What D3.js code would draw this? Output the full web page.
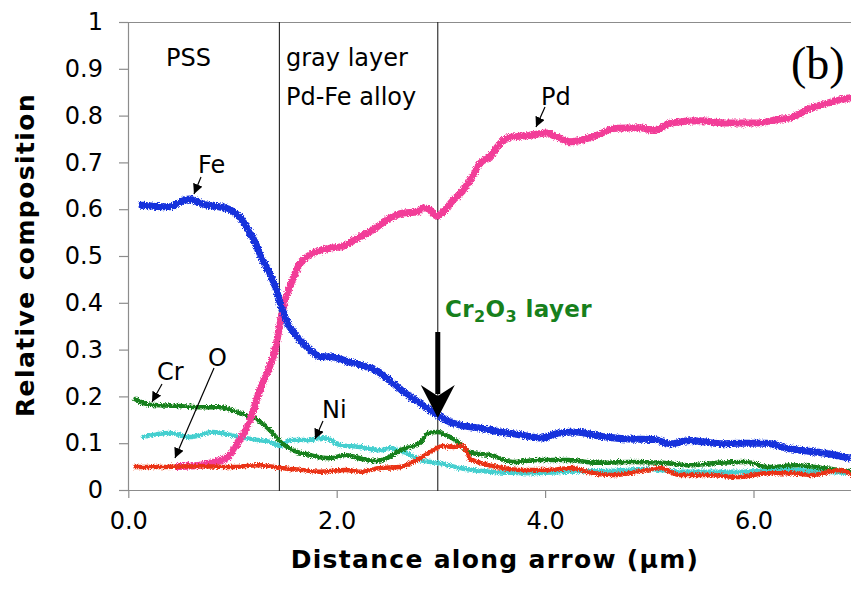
<!DOCTYPE html>
<html>
<head>
<meta charset="utf-8">
<script src="https://cdn.jsdelivr.net/npm/d3@7"></script>
<style>
  html, body { margin: 0; padding: 0; background: #fff; }
  svg { display: block; font-family: "DejaVu Sans", Verdana, sans-serif; }
</style>
</head>
<body>
<svg id="chart" width="851" height="592"></svg>
<script>
// Line-scan composition profiles, [distance (µm), relative composition]
const fe = [[0.10,0.609],[0.40,0.605],[0.48,0.613],[0.58,0.622],[0.69,0.613],[0.79,0.607],[0.88,0.605],[1.00,0.596],[1.07,0.583],[1.15,0.556],[1.22,0.528],[1.28,0.496],[1.34,0.47],[1.41,0.435],[1.47,0.39],[1.55,0.348],[1.65,0.32],[1.74,0.30],[1.84,0.285],[1.96,0.284],[2.10,0.275],[2.22,0.268],[2.39,0.254],[2.54,0.228],[2.67,0.205],[2.80,0.185],[2.97,0.16],[3.09,0.145],[3.18,0.139],[3.38,0.132],[3.57,0.124],[3.76,0.118],[3.95,0.111],[4.14,0.122],[4.29,0.124],[4.53,0.115],[4.81,0.109],[5.05,0.108],[5.20,0.099],[5.39,0.106],[5.68,0.099],[5.87,0.10],[6.13,0.10],[6.30,0.09],[6.45,0.085],[6.67,0.079],[6.93,0.068]];
const pd = [[0.45,0.05],[0.65,0.052],[0.79,0.058],[0.95,0.07],[1.07,0.107],[1.17,0.15],[1.24,0.199],[1.33,0.25],[1.39,0.284],[1.44,0.335],[1.48,0.385],[1.55,0.434],[1.63,0.477],[1.74,0.502],[1.94,0.517],[2.03,0.519],[2.20,0.538],[2.35,0.556],[2.48,0.577],[2.64,0.592],[2.77,0.594],[2.83,0.603],[2.90,0.598],[2.96,0.585],[3.02,0.594],[3.12,0.62],[3.20,0.637],[3.28,0.662],[3.38,0.699],[3.47,0.712],[3.54,0.733],[3.63,0.752],[3.86,0.758],[4.02,0.763],[4.11,0.755],[4.24,0.744],[4.46,0.755],[4.69,0.773],[4.91,0.774],[5.05,0.768],[5.20,0.784],[5.49,0.789],[5.74,0.784],[6.03,0.784],[6.22,0.791],[6.38,0.797],[6.54,0.815],[6.70,0.826],[6.90,0.837],[6.98,0.84]];
const cr = [[0.05,0.196],[0.21,0.182],[0.45,0.18],[0.69,0.177],[0.88,0.177],[1.07,0.164],[1.24,0.15],[1.36,0.128],[1.46,0.103],[1.58,0.085],[1.74,0.075],[1.84,0.07],[1.94,0.068],[2.08,0.075],[2.22,0.068],[2.37,0.062],[2.51,0.071],[2.61,0.085],[2.80,0.10],[2.87,0.121],[2.97,0.124],[3.09,0.113],[3.18,0.10],[3.28,0.079],[3.47,0.075],[3.69,0.06],[3.95,0.064],[4.21,0.064],[4.50,0.058],[4.81,0.06],[5.13,0.058],[5.39,0.053],[5.65,0.058],[5.94,0.06],[6.13,0.049],[6.42,0.053],[6.67,0.047],[6.98,0.039]];
const ni = [[0.13,0.113],[0.40,0.122],[0.59,0.113],[0.81,0.124],[1.07,0.113],[1.24,0.107],[1.36,0.103],[1.46,0.094],[1.55,0.107],[1.74,0.107],[1.84,0.111],[1.94,0.107],[2.03,0.096],[2.22,0.092],[2.42,0.085],[2.51,0.09],[2.67,0.079],[2.80,0.064],[2.97,0.058],[3.18,0.047],[3.47,0.039],[3.86,0.036],[4.21,0.039],[4.65,0.041],[4.98,0.045],[5.29,0.039],[5.87,0.039],[6.35,0.043],[6.67,0.039],[6.98,0.036]];
const ox = [[0.05,0.049],[0.30,0.049],[0.69,0.051],[0.98,0.049],[1.26,0.053],[1.46,0.047],[1.65,0.043],[1.84,0.039],[2.08,0.043],[2.22,0.039],[2.42,0.047],[2.61,0.049],[2.77,0.064],[2.90,0.081],[3.02,0.094],[3.12,0.092],[3.21,0.095],[3.28,0.066],[3.38,0.058],[3.54,0.049],[3.76,0.043],[4.02,0.043],[4.27,0.047],[4.40,0.039],[4.65,0.032],[4.98,0.043],[5.10,0.047],[5.29,0.032],[5.55,0.032],[5.87,0.028],[6.13,0.036],[6.35,0.036],[6.57,0.032],[6.83,0.043],[6.98,0.028]];

const xTicks = [0, 2, 4, 6];
const yTicks = [0, 0.1, 0.2, 0.3, 0.4, 0.5, 0.6, 0.7, 0.8, 0.9, 1];
const regionBounds = [1.45, 2.97];

const seriesList = [
  { name: "Ni", data: ni, color: "#45cfcf", width: 4.5 },
  { name: "Cr", data: cr, color: "#17801c", width: 4.5 },
  { name: "Pd", data: pd, color: "#f23c98", width: 7 },
  { name: "Fe", data: fe, color: "#1632dc", width: 7 },
  { name: "O",  data: ox, color: "#ea3212", width: 4.5 }
];

const svg = d3.select("#chart");
const x = d3.scaleLinear().domain([0, 7]).range([128.3, 857.7]);
const y = d3.scaleLinear().domain([0, 1]).range([490, 22]);

const defs = svg.append("defs");
defs.append("clipPath").attr("id", "plotclip")
  .append("rect").attr("x", 128).attr("y", 0).attr("width", 740).attr("height", 492);
// ragged, speckled stroke edges for the measured profiles
const fz = defs.append("filter").attr("id", "fuzz")
  .attr("filterUnits", "userSpaceOnUse")
  .attr("x", 100).attr("y", 0).attr("width", 780).attr("height", 520);
fz.append("feTurbulence").attr("type", "fractalNoise").attr("baseFrequency", 1.4)
  .attr("numOctaves", 2).attr("seed", 7).attr("result", "noise");
fz.append("feDisplacementMap").attr("in", "SourceGraphic").attr("in2", "noise")
  .attr("scale", 5).attr("xChannelSelector", "R").attr("yChannelSelector", "G");

const axisColor = "#8c8c8c";
const sans = "'DejaVu Sans', Verdana, sans-serif";

// frame: top border line
svg.append("line").attr("x1", 128).attr("x2", 851).attr("y1", 22.5).attr("y2", 22.5)
  .attr("stroke", axisColor).attr("stroke-width", 1.2);

// y axis
const yAxis = svg.append("g").attr("transform", "translate(128,0)")
  .call(d3.axisLeft(y).tickValues(yTicks).tickSize(9).tickPadding(16)
        .tickFormat(d => d === 0 || d === 1 ? d3.format("d")(d) : d3.format(".1f")(d)));
yAxis.select(".domain").attr("stroke", axisColor).attr("stroke-width", 1.2);
yAxis.selectAll(".tick line").attr("stroke", axisColor).attr("stroke-width", 1.2);
yAxis.selectAll(".tick text").attr("fill", "#000")
  .style("font-size", "24px").style("font-family", sans);

// x axis
const xAxis = svg.append("g").attr("transform", "translate(0,490)")
  .call(d3.axisBottom(x).tickValues(xTicks).tickSize(8).tickSizeOuter(0).tickPadding(14)
        .tickFormat(d3.format(".1f")));
xAxis.select(".domain").attr("stroke", axisColor).attr("stroke-width", 1.2);
xAxis.selectAll(".tick line").attr("stroke", axisColor).attr("stroke-width", 1.2);
xAxis.selectAll(".tick text").attr("fill", "#000")
  .style("font-size", "24px").style("font-family", sans);

// layer boundaries
svg.selectAll("line.bound").data(regionBounds).enter().append("line")
  .attr("class", "bound")
  .attr("x1", d => x(d)).attr("x2", d => x(d))
  .attr("y1", 22).attr("y2", 491)
  .attr("stroke", "#222").attr("stroke-width", 1.1);

// composition profiles
const line = d3.line().x(d => x(d[0])).y(d => y(d[1])).curve(d3.curveMonotoneX);
const plot = svg.append("g").attr("clip-path", "url(#plotclip)");
plot.selectAll("path.profile").data(seriesList).enter().append("path")
  .attr("class", "profile")
  .attr("d", d => line(d.data))
  .attr("fill", "none")
  .attr("stroke", d => d.color)
  .attr("stroke-width", d => d.width)
  .attr("stroke-linejoin", "round")
  .attr("filter", "url(#fuzz)");

// axis titles
svg.append("text").attr("x", 495).attr("y", 568).attr("text-anchor", "middle")
  .style("font-size", "25px").style("font-weight", "bold").style("letter-spacing", "1.3px")
  .text("Distance along arrow (\u03bcm)");
svg.append("text").attr("transform", "translate(34,255) rotate(-90)")
  .attr("text-anchor", "middle")
  .style("font-size", "25px").style("font-weight", "bold").style("letter-spacing", "1.4px")
  .text("Relative composition");

// region and element labels
const labels = [
  { t: "PSS", x: 166, y: 66 },
  { t: "gray layer", x: 286, y: 66 },
  { t: "Pd-Fe alloy", x: 286, y: 105 },
  { t: "Pd", x: 541, y: 105 },
  { t: "Fe", x: 198, y: 173 },
  { t: "Cr", x: 157, y: 380 },
  { t: "O", x: 208, y: 366 },
  { t: "Ni", x: 322, y: 418 }
];
svg.selectAll("text.lab").data(labels).enter().append("text")
  .attr("class", "lab").attr("x", d => d.x).attr("y", d => d.y)
  .attr("fill", "#000").style("font-size", "24px").text(d => d.t);

svg.append("text").attr("x", 791).attr("y", 79)
  .style("font-family", "'Liberation Serif', 'Times New Roman', serif")
  .style("font-size", "46px").attr("fill", "#000").text("(b)");

// pointer arrows from labels to curves
defs.append("marker").attr("id", "tip").attr("viewBox", "0 0 10 10")
  .attr("refX", 10).attr("refY", 5).attr("markerWidth", 10).attr("markerHeight", 10)
  .attr("markerUnits", "userSpaceOnUse").attr("orient", "auto")
  .append("path").attr("d", "M0,0 L10,5 L0,10 Z").attr("fill", "#000");
const pointers = [
  [545, 107, 536, 127],
  [201, 177, 194, 194],
  [162, 384, 152, 402],
  [214, 368, 175, 458],
  [323, 421, 315, 439]
];
svg.selectAll("line.ptr").data(pointers).enter().append("line")
  .attr("class", "ptr")
  .attr("x1", d => d[0]).attr("y1", d => d[1]).attr("x2", d => d[2]).attr("y2", d => d[3])
  .attr("stroke", "#000").attr("stroke-width", 1.2).attr("marker-end", "url(#tip)");

// Cr2O3 layer callout
const crText = svg.append("text").attr("x", 445).attr("y", 317)
  .style("font-size", "23px").style("font-weight", "bold").style("letter-spacing", "0.4px")
  .attr("fill", "#17801c");
crText.append("tspan").text("Cr");
crText.append("tspan").style("font-size", "16px").attr("dy", 5).text("2");
crText.append("tspan").attr("dy", -5).text("O");
crText.append("tspan").style("font-size", "16px").attr("dy", 5).text("3");
crText.append("tspan").attr("dy", -5).text(" layer");

const ax = x(2.97);
svg.append("rect").attr("x", ax - 2.5).attr("y", 332).attr("width", 5).attr("height", 62).attr("fill", "#000");
svg.append("path")
  .attr("d", `M${ax - 17},385 L${ax},418 L${ax + 17},385 L${ax},396 Z`)
  .attr("fill", "#000");
</script>
</body>
</html>
